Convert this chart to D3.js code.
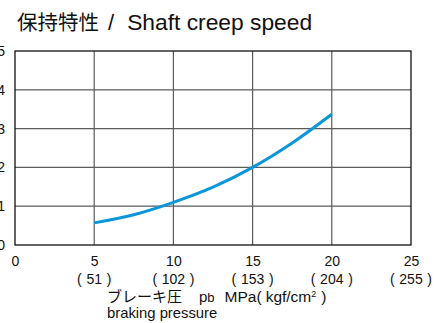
<!DOCTYPE html>
<html>
<head>
<meta charset="utf-8">
<script src="https://cdn.jsdelivr.net/npm/d3@7/dist/d3.min.js"></script>
<style>
  html, body { margin: 0; padding: 0; background: #fff; }
  svg { display: block; }
  text { font-family: "Liberation Sans", Arial, "Noto Sans CJK JP", sans-serif; fill: #111; }
  .jp { font-family: "Noto Sans CJK JP", sans-serif; }
</style>
</head>
<body>
<svg id="chart" width="441" height="323"></svg>
<script>
// Braking pressure (MPa) and shaft creep speed
const pressure = [5, 7.5, 10, 12.5, 15, 17.5, 20];
const creepSpeed = [0.57, 0.78, 1.1, 1.49, 2.0, 2.63, 3.37];

// Axis ticks
const xTicks = [0, 5, 10, 15, 20, 25];
const xTicksKgf = ["", "51", "102", "153", "204", "255"];
const yTicks = [0, 1, 2, 3, 4, 5];

const svg = d3.select("#chart");
const x = d3.scaleLinear().domain([0, 25]).range([15, 411]);
const y = d3.scaleLinear().domain([0, 5]).range([245, 51]);

// Title
const title = svg.append("text").attr("x", 17).attr("y", 30);
title.append("tspan").attr("class", "jp").style("font-size", "20.5px").text("保持特性");
title.append("tspan").attr("dx", 9).style("font-size", "22px").text("/");
title.append("tspan").attr("dx", 13).style("font-size", "22.8px").text("Shaft creep speed");

// Grid lines
const grid = svg.append("g").attr("stroke", "#5a5a5a").attr("stroke-width", 1.2);
grid.selectAll("line.v").data(xTicks.slice(1, -1)).join("line")
  .attr("x1", d => x(d)).attr("x2", d => x(d))
  .attr("y1", y(0)).attr("y2", y(5));
grid.selectAll("line.h").data(yTicks.slice(1, -1)).join("line")
  .attr("x1", x(0)).attr("x2", x(25))
  .attr("y1", d => y(d)).attr("y2", d => y(d));

// Frame
svg.append("rect")
  .attr("x", x(0)).attr("y", y(5))
  .attr("width", x(25) - x(0)).attr("height", y(0) - y(5))
  .attr("fill", "none").attr("stroke", "#111").attr("stroke-width", 1.3);

// Curve
const line = d3.line()
  .x((d, i) => x(pressure[i]))
  .y(d => y(d))
  .curve(d3.curveMonotoneX);
svg.append("path")
  .datum(creepSpeed)
  .attr("d", line)
  .attr("fill", "none")
  .attr("stroke", "#0a96d8")
  .attr("stroke-width", 3)
  .attr("stroke-linecap", "butt");

// Y axis labels
const yAxis = d3.axisLeft(y).tickValues(yTicks).tickSize(0).tickPadding(0).tickFormat(d3.format("d"));
const gy = svg.append("g").attr("transform", "translate(5,0)").call(yAxis);
gy.select(".domain").remove();
gy.selectAll("text").style("font-size", "14px").attr("fill", "#111")
  .style("font-family", "'Liberation Sans', Arial, sans-serif");

// X axis labels (MPa)
const xAxis = d3.axisBottom(x).tickValues(xTicks).tickSize(0).tickPadding(0).tickFormat(d3.format("d"));
const gx = svg.append("g").attr("transform", "translate(0,256)").call(xAxis);
gx.select(".domain").remove();
gx.selectAll("text").style("font-size", "14px").attr("fill", "#111")
  .style("font-family", "'Liberation Sans', Arial, sans-serif");

// X axis labels (kgf/cm²)
svg.append("g").selectAll("text")
  .data(xTicks.map((d, i) => ({ v: d, k: xTicksKgf[i] })).filter(d => d.k))
  .join("text")
  .attr("x", d => x(d.v)).attr("y", 284)
  .attr("text-anchor", "middle")
  .style("font-size", "14px")
  .attr("xml:space", "preserve")
  .text(d => "(\u2004" + d.k + "\u2004)");

// X axis title
const t = svg.append("text").attr("x", 107).attr("y", 302).style("font-size", "15.5px");
t.append("tspan").attr("class", "jp").style("font-size", "15px").text("ブレーキ圧");
t.append("tspan").attr("dx", 17).style("font-size", "15px").text("p");
t.append("tspan").style("font-size", "13px").text("b");
t.append("tspan").attr("dx", 10).text("MPa");
t.append("tspan").text("(");
t.append("tspan").attr("dx", 4).text("kgf/cm");
t.append("tspan").attr("dy", -5).style("font-size", "9px").text("2");
t.append("tspan").attr("dy", 5).attr("dx", 5).text(")");

svg.append("text")
  .attr("x", 107).attr("y", 318)
  .style("font-size", "14.8px")
  .text("braking pressure");
</script>
</body>
</html>
